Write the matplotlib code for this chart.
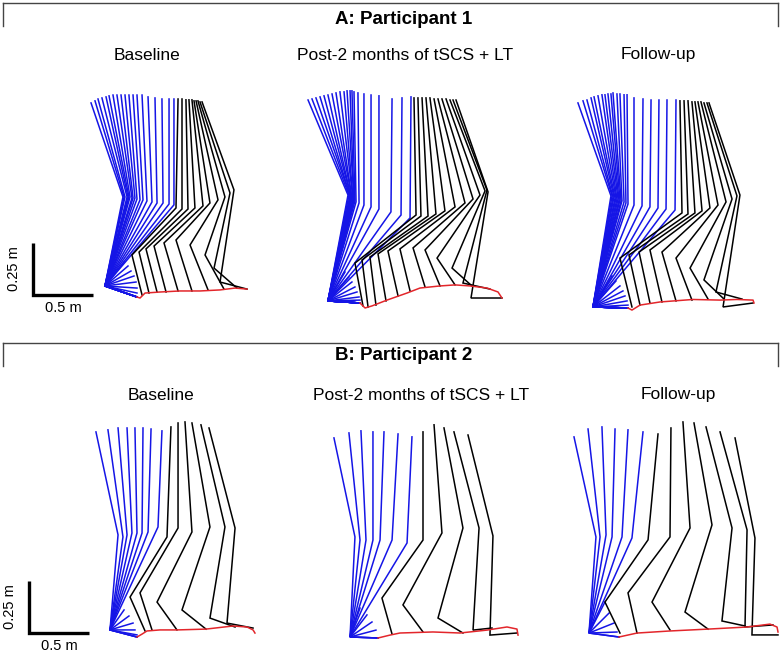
import matplotlib.pyplot as plt
from matplotlib.lines import Line2D

plt.rcParams['font.family'] = ['Liberation Sans', 'DejaVu Sans']

W, H = 781, 655
PX_PER_M_X = 120
PX_PER_M_Y = 208

BLUE = '#1515e6'
RED = '#e3262b'

# all positions in metres, origin = toe position at toe-off, y up
# stance = blue sticks, swing = black sticks, toe path = red

# ---------------- A: Participant 1 / Baseline
p1b_st_hip_x = [-0.383, -0.35, -0.325, -0.292, -0.258, -0.233, -0.2, -0.167, -0.133, -0.1, -0.067, -0.033, 0.0, 0.042, 0.092, 0.15, 0.208, 0.267, 0.308]
p1b_st_hip_y = [0.933, 0.943, 0.952, 0.957, 0.962, 0.967, 0.971, 0.971, 0.971, 0.971, 0.971, 0.971, 0.971, 0.971, 0.962, 0.957, 0.952, 0.952, 0.952]
p1b_st_knee_x = [-0.117, -0.108, -0.1, -0.083, -0.075, -0.067, -0.058, -0.042, -0.033, -0.017, 0.0, 0.025, 0.05, 0.083, 0.125, 0.167, 0.217, 0.267, 0.308]
p1b_st_knee_y = [0.481, 0.481, 0.481, 0.481, 0.481, 0.481, 0.481, 0.476, 0.476, 0.476, 0.471, 0.467, 0.467, 0.462, 0.457, 0.452, 0.452, 0.447, 0.443]
p1b_st_ankle = (-0.267, 0.053)
p1b_st_toe_x = [-0.108, -0.075, -0.05, -0.025, -0.008, 0, 0, 0, 0, 0, 0, 0, 0, 0, 0, 0, 0, 0, 0]
p1b_st_toe_y = [0.168, 0.149, 0.125, 0.101, 0.072, 0.043, 0.019, 0, 0, 0, 0, 0, 0, 0, 0, 0, 0, 0, 0]
p1b_sw_hip_x = [0.342, 0.375, 0.408, 0.433, 0.458, 0.475, 0.492, 0.508, 0.525, 0.542]
p1b_sw_hip_y = [0.952, 0.952, 0.948, 0.948, 0.948, 0.943, 0.943, 0.943, 0.938, 0.938]
p1b_sw_knee_x = [0.325, 0.375, 0.425, 0.483, 0.55, 0.608, 0.675, 0.733, 0.775, 0.808]
p1b_sw_knee_y = [0.428, 0.423, 0.423, 0.428, 0.438, 0.452, 0.467, 0.481, 0.5, 0.515]
p1b_sw_ankle_x = [-0.042, 0.017, 0.075, 0.142, 0.225, 0.325, 0.442, 0.567, 0.642, 0.692]
p1b_sw_ankle_y = [0.202, 0.216, 0.231, 0.245, 0.26, 0.274, 0.25, 0.202, 0.139, 0.072]
p1b_sw_toe_x = [0.042, 0.1, 0.167, 0.242, 0.342, 0.458, 0.592, 0.725, 0.833, 0.917]
p1b_sw_toe_y = [0.01, 0.019, 0.024, 0.024, 0.029, 0.029, 0.034, 0.038, 0.043, 0.038]
p1b_path_x = [0, 0.025, 0.067, 0.192, 0.358, 0.525, 0.692, 0.817, 0.917]
p1b_path_y = [0, -0.005, 0.019, 0.024, 0.029, 0.029, 0.034, 0.043, 0.038]

# ---------------- A: Participant 1 / Post-2 months
p1p_st_hip_x = [-0.433, -0.4, -0.367, -0.333, -0.3, -0.267, -0.233, -0.2, -0.167, -0.133, -0.108, -0.083, -0.067, -0.05, -0.017, 0.033, 0.092, 0.158, 0.267, 0.35, 0.425]
p1p_st_hip_y = [0.976, 0.981, 0.986, 0.991, 0.996, 1.0, 1.005, 1.01, 1.015, 1.015, 1.02, 1.02, 1.02, 1.015, 1.01, 1.005, 1.0, 0.996, 0.981, 0.986, 0.991]
p1p_st_knee_x = [-0.1, -0.092, -0.083, -0.083, -0.075, -0.075, -0.067, -0.067, -0.058, -0.058, -0.05, -0.05, -0.042, -0.033, -0.008, 0.033, 0.092, 0.158, 0.258, 0.342, 0.417]
p1p_st_knee_y = [0.519, 0.519, 0.515, 0.515, 0.51, 0.51, 0.505, 0.505, 0.5, 0.5, 0.495, 0.495, 0.491, 0.486, 0.481, 0.471, 0.462, 0.452, 0.438, 0.423, 0.409]
p1p_st_ankle = (-0.267, 0.01)
p1p_st_toe_x = [-0.125, -0.092, -0.067, -0.042, -0.025, -0.008, 0, 0, 0, 0, 0, 0, 0, 0, 0, 0, 0, 0, 0, 0, 0]
p1p_st_toe_y = [0.149, 0.125, 0.101, 0.077, 0.053, 0.029, 0.014, 0, 0, 0, 0, 0, 0, 0, 0, 0, 0, 0, 0, 0, 0]
p1p_sw_hip_x = [0.45, 0.483, 0.517, 0.55, 0.583, 0.617, 0.65, 0.683, 0.717, 0.75, 0.775, 0.8]
p1p_sw_hip_y = [0.986, 0.986, 0.986, 0.986, 0.986, 0.981, 0.981, 0.981, 0.981, 0.976, 0.976, 0.976]
p1p_sw_knee_x = [0.467, 0.508, 0.567, 0.633, 0.708, 0.792, 0.875, 0.942, 1.0, 1.042, 1.058, 1.067]
p1p_sw_knee_y = [0.423, 0.418, 0.418, 0.428, 0.443, 0.462, 0.481, 0.5, 0.519, 0.539, 0.543, 0.534]
p1p_sw_ankle_x = [-0.042, 0.017, 0.083, 0.15, 0.233, 0.333, 0.442, 0.542, 0.642, 0.767, 0.858, 0.925]
p1p_sw_ankle_y = [0.192, 0.207, 0.221, 0.236, 0.25, 0.26, 0.265, 0.255, 0.216, 0.168, 0.096, 0.024]
p1p_sw_toe_x = [0.025, 0.067, 0.133, 0.217, 0.317, 0.417, 0.542, 0.667, 0.792, 0.933, 1.083, 1.183]
p1p_sw_toe_y = [-0.014, -0.019, -0.01, 0.01, 0.034, 0.058, 0.077, 0.082, 0.087, 0.082, 0.067, 0.024]
p1p_path_x = [0, 0.042, 0.1, 0.225, 0.392, 0.5, 0.667, 0.792, 0.917, 1.058, 1.15, 1.183]
p1p_path_y = [0, -0.024, -0.014, 0.014, 0.048, 0.072, 0.082, 0.087, 0.082, 0.072, 0.053, 0.024]

# ---------------- A: Participant 1 / Follow-up
p1f_st_hip_x = [-0.417, -0.375, -0.342, -0.308, -0.283, -0.25, -0.217, -0.192, -0.167, -0.142, -0.125, -0.092, -0.067, -0.033, -0.008, 0.05, 0.125, 0.192, 0.258, 0.325, 0.4]
p1f_st_hip_y = [0.986, 0.996, 1.0, 1.01, 1.015, 1.02, 1.025, 1.025, 1.029, 1.029, 1.034, 1.029, 1.029, 1.025, 1.025, 1.01, 1.005, 1.0, 1.0, 1.0, 1.0]
p1f_st_knee_x = [-0.142, -0.133, -0.125, -0.117, -0.108, -0.1, -0.092, -0.083, -0.075, -0.067, -0.058, -0.05, -0.033, -0.017, 0, 0.05, 0.117, 0.183, 0.25, 0.317, 0.392]
p1f_st_knee_y = [0.539, 0.539, 0.534, 0.534, 0.529, 0.529, 0.524, 0.524, 0.519, 0.519, 0.515, 0.515, 0.51, 0.505, 0.5, 0.495, 0.491, 0.486, 0.481, 0.476, 0.471]
p1f_st_ankle = (-0.292, 0.005)
p1f_st_toe_x = [-0.133, -0.1, -0.067, -0.042, -0.025, -0.008, 0, 0, 0, 0, 0, 0, 0, 0, 0, 0, 0, 0, 0, 0, 0]
p1f_st_toe_y = [0.154, 0.13, 0.106, 0.082, 0.058, 0.034, 0.014, 0, 0, 0, 0, 0, 0, 0, 0, 0, 0, 0, 0, 0, 0]
p1f_sw_hip_x = [0.433, 0.467, 0.5, 0.533, 0.558, 0.583, 0.608, 0.633, 0.658, 0.675]
p1f_sw_hip_y = [0.996, 0.996, 0.996, 0.991, 0.991, 0.991, 0.991, 0.986, 0.986, 0.986]
p1f_sw_knee_x = [0.45, 0.5, 0.558, 0.617, 0.683, 0.75, 0.817, 0.867, 0.908, 0.933]
p1f_sw_knee_y = [0.457, 0.452, 0.457, 0.467, 0.481, 0.495, 0.51, 0.524, 0.539, 0.543]
p1f_sw_ankle_x = [-0.067, 0.008, 0.092, 0.183, 0.283, 0.4, 0.517, 0.633, 0.733, 0.792]
p1f_sw_ankle_y = [0.24, 0.255, 0.269, 0.279, 0.269, 0.24, 0.192, 0.135, 0.077, 0.005]
p1f_sw_toe_x = [0.033, 0.1, 0.183, 0.283, 0.4, 0.533, 0.667, 0.8, 0.95, 1.042]
p1f_sw_toe_y = [0.005, 0.014, 0.024, 0.029, 0.034, 0.038, 0.043, 0.043, 0.043, 0.024]
p1f_path_x = [0, 0.033, 0.1, 0.267, 0.542, 0.767, 0.908, 1.042, 1.05]
p1f_path_y = [0, -0.01, 0.014, 0.029, 0.041, 0.038, 0.041, 0.038, 0.024]

# ---------------- B: Participant 2 / Baseline
p2b_st_hip_x = [-0.342, -0.242, -0.158, -0.083, -0.017, 0.05, 0.117, 0.208]
p2b_st_hip_y = [0.986, 0.996, 1.005, 1.005, 1.005, 1.005, 1.0, 0.991]
p2b_st_knee_x = [-0.158, -0.117, -0.083, -0.042, 0, 0.042, 0.092, 0.175]
p2b_st_knee_y = [0.491, 0.481, 0.491, 0.5, 0.5, 0.5, 0.505, 0.529]
p2b_st_ankle = (-0.225, 0.034)
p2b_st_toe_x = [-0.108, -0.067, -0.033, -0.017, 0, 0, 0, 0]
p2b_st_toe_y = [0.13, 0.101, 0.067, 0.034, 0.01, 0, 0, 0]
p2b_sw_hip_x = [0.283, 0.342, 0.4, 0.458, 0.533, 0.6]
p2b_sw_hip_y = [1.01, 1.029, 1.034, 1.029, 1.02, 1.005]
p2b_sw_knee_x = [0.25, 0.342, 0.458, 0.608, 0.733, 0.817]
p2b_sw_knee_y = [0.481, 0.524, 0.505, 0.529, 0.529, 0.524]
p2b_sw_ankle_x = [-0.058, 0.025, 0.167, 0.375, 0.608, 0.75]
p2b_sw_ankle_y = [0.192, 0.212, 0.168, 0.13, 0.091, 0.067]
p2b_sw_toe_x = [0.067, 0.125, 0.333, 0.575, 0.817, 0.967]
p2b_sw_toe_y = [0.029, 0.034, 0.034, 0.038, 0.048, 0.043]
p2b_path_x = [0, 0.042, 0.083, 0.192, 0.333, 0.575, 0.8, 0.917, 0.967, 0.983]
p2b_path_y = [0, 0.014, 0.029, 0.034, 0.034, 0.038, 0.053, 0.048, 0.034, 0.019]

# ---------------- B: Participant 2 / Post-2 months
p2p_st_hip_x = [-0.367, -0.242, -0.142, -0.042, 0.05, 0.167, 0.283]
p2p_st_hip_y = [0.962, 0.986, 0.996, 0.991, 0.991, 0.981, 0.967]
p2p_st_knee_x = [-0.192, -0.15, -0.1, -0.042, 0.017, 0.117, 0.242]
p2p_st_knee_y = [0.486, 0.471, 0.471, 0.471, 0.471, 0.471, 0.457]
p2p_st_ankle = (-0.233, 0.005)
p2p_st_toe_x = [-0.15, -0.092, -0.05, -0.017, 0, 0, 0]
p2p_st_toe_y = [0.144, 0.111, 0.077, 0.038, 0, 0, 0]
p2p_sw_hip_x = [0.375, 0.467, 0.55, 0.633, 0.75]
p2p_sw_hip_y = [0.991, 1.025, 1.01, 0.991, 0.976]
p2p_sw_knee_x = [0.375, 0.533, 0.708, 0.842, 0.958]
p2p_sw_knee_y = [0.471, 0.505, 0.529, 0.529, 0.491]
p2p_sw_ankle_x = [0.033, 0.208, 0.5, 0.792, 0.933]
p2p_sw_ankle_y = [0.192, 0.159, 0.096, 0.038, 0.014]
p2p_sw_toe_x = [0.117, 0.375, 0.708, 0.95, 1.158]
p2p_sw_toe_y = [0.019, 0.029, 0.024, 0.048, 0.024]
p2p_path_x = [0, 0.1, 0.183, 0.458, 0.683, 0.908, 1.075, 1.158, 1.167]
p2p_path_y = [0, 0.014, 0.024, 0.029, 0.024, 0.038, 0.053, 0.043, 0.014]

# ---------------- B: Participant 2 / Follow-up
p2f_st_hip_x = [-0.375, -0.258, -0.142, -0.033, 0.075, 0.2]
p2f_st_hip_y = [0.962, 1.0, 1.01, 1.0, 0.996, 0.986]
p2f_st_knee_x = [-0.192, -0.158, -0.108, -0.058, 0.025, 0.108]
p2f_st_knee_y = [0.481, 0.481, 0.491, 0.481, 0.481, 0.476]
p2f_st_ankle = (-0.25, 0.019)
p2f_st_toe_x = [-0.117, -0.083, -0.042, -0.017, 0, 0]
p2f_st_toe_y = [0.168, 0.115, 0.067, 0.024, 0, 0]
p2f_sw_hip_x = [0.325, 0.433, 0.533, 0.625, 0.725, 0.842, 0.967]
p2f_sw_hip_y = [0.976, 1.005, 1.034, 1.029, 1.01, 0.986, 0.957]
p2f_sw_knee_x = [0.242, 0.425, 0.592, 0.775, 0.942, 1.067, 1.133]
p2f_sw_knee_y = [0.467, 0.481, 0.524, 0.539, 0.524, 0.515, 0.476]
p2f_sw_ankle_x = [-0.117, 0.075, 0.275, 0.55, 0.858, 1.05, 1.108]
p2f_sw_ankle_y = [0.168, 0.212, 0.168, 0.12, 0.077, 0.048, 0.01]
p2f_sw_toe_x = [0.008, 0.15, 0.425, 0.742, 1.05, 1.283, 1.325]
p2f_sw_toe_y = [0.019, 0.019, 0.034, 0.038, 0.053, 0.058, 0.01]
p2f_path_x = [0, 0.15, 0.425, 0.742, 1.067, 1.258, 1.317, 1.325]
p2f_path_y = [0, 0.019, 0.029, 0.038, 0.048, 0.062, 0.048, 0.024]

titles = ['A: Participant 1', 'B: Participant 2']
conditions = ['Baseline', 'Post-2 months of tSCS + LT', 'Follow-up']


def make_axes(fig, ox, oy, left=110, right=180, top=240, bottom=20):
    # axes whose data origin (0, 0) sits at pixel (ox, oy) of the figure
    rect = [(ox - left) / W, (H - oy - bottom) / H, (left + right) / W, (top + bottom) / H]
    ax = fig.add_axes(rect)
    ax.set_xlim(-left / PX_PER_M_X, right / PX_PER_M_X)
    ax.set_ylim(-bottom / PX_PER_M_Y, top / PX_PER_M_Y)
    ax.axis('off')
    return ax


def draw_gait(ax, st, sw, path):
    hx, hy, kx, ky, ank, tx, ty = st
    for i in range(len(hx)):
        ax.plot([hx[i], kx[i], ank[0], tx[i]], [hy[i], ky[i], ank[1], ty[i]],
                color=BLUE, lw=1.1, solid_joinstyle='miter')
    hx, hy, kx, ky, ax_, ay, tx, ty = sw
    for i in range(len(hx)):
        ax.plot([hx[i], kx[i], ax_[i], tx[i]], [hy[i], ky[i], ay[i], ty[i]],
                color='black', lw=1.1, solid_joinstyle='miter')
    ax.plot(path[0], path[1], color=RED, lw=1.1, zorder=5)


fig = plt.figure(figsize=(W / 100, H / 100), dpi=100)

panels = [
    ((137, 297),
     (p1b_st_hip_x, p1b_st_hip_y, p1b_st_knee_x, p1b_st_knee_y, p1b_st_ankle, p1b_st_toe_x, p1b_st_toe_y),
     (p1b_sw_hip_x, p1b_sw_hip_y, p1b_sw_knee_x, p1b_sw_knee_y, p1b_sw_ankle_x, p1b_sw_ankle_y, p1b_sw_toe_x, p1b_sw_toe_y),
     (p1b_path_x, p1b_path_y)),
    ((360, 303),
     (p1p_st_hip_x, p1p_st_hip_y, p1p_st_knee_x, p1p_st_knee_y, p1p_st_ankle, p1p_st_toe_x, p1p_st_toe_y),
     (p1p_sw_hip_x, p1p_sw_hip_y, p1p_sw_knee_x, p1p_sw_knee_y, p1p_sw_ankle_x, p1p_sw_ankle_y, p1p_sw_toe_x, p1p_sw_toe_y),
     (p1p_path_x, p1p_path_y)),
    ((628, 308),
     (p1f_st_hip_x, p1f_st_hip_y, p1f_st_knee_x, p1f_st_knee_y, p1f_st_ankle, p1f_st_toe_x, p1f_st_toe_y),
     (p1f_sw_hip_x, p1f_sw_hip_y, p1f_sw_knee_x, p1f_sw_knee_y, p1f_sw_ankle_x, p1f_sw_ankle_y, p1f_sw_toe_x, p1f_sw_toe_y),
     (p1f_path_x, p1f_path_y)),
    ((137, 637),
     (p2b_st_hip_x, p2b_st_hip_y, p2b_st_knee_x, p2b_st_knee_y, p2b_st_ankle, p2b_st_toe_x, p2b_st_toe_y),
     (p2b_sw_hip_x, p2b_sw_hip_y, p2b_sw_knee_x, p2b_sw_knee_y, p2b_sw_ankle_x, p2b_sw_ankle_y, p2b_sw_toe_x, p2b_sw_toe_y),
     (p2b_path_x, p2b_path_y)),
    ((378, 638),
     (p2p_st_hip_x, p2p_st_hip_y, p2p_st_knee_x, p2p_st_knee_y, p2p_st_ankle, p2p_st_toe_x, p2p_st_toe_y),
     (p2p_sw_hip_x, p2p_sw_hip_y, p2p_sw_knee_x, p2p_sw_knee_y, p2p_sw_ankle_x, p2p_sw_ankle_y, p2p_sw_toe_x, p2p_sw_toe_y),
     (p2p_path_x, p2p_path_y)),
    ((619, 637),
     (p2f_st_hip_x, p2f_st_hip_y, p2f_st_knee_x, p2f_st_knee_y, p2f_st_ankle, p2f_st_toe_x, p2f_st_toe_y),
     (p2f_sw_hip_x, p2f_sw_hip_y, p2f_sw_knee_x, p2f_sw_knee_y, p2f_sw_ankle_x, p2f_sw_ankle_y, p2f_sw_toe_x, p2f_sw_toe_y),
     (p2f_path_x, p2f_path_y)),
]

for (ox, oy), st, sw, path in panels:
    ax = make_axes(fig, ox, oy)
    draw_gait(ax, st, sw, path)

# scale bars (0.5 m horizontal, 0.25 m vertical)
for ox, oy in [(33, 295), (29, 633)]:
    ax = make_axes(fig, ox, oy, left=30, right=80, top=70, bottom=22)
    ax.plot([0, 0, 0.5], [0.25, 0, 0], color='black', lw=2.4, solid_capstyle='butt',
            solid_joinstyle='miter')
    ax.text(-0.155, 0.125, '0.25 m', rotation=90, ha='center', va='center', fontsize=10.5)
    ax.text(0.25, -0.062, '0.5 m', ha='center', va='center', fontsize=10.5)

# group headers with bracket frames
for ytop, title, ytitle, ysub, xs in [(3, titles[0], 19, 55, (147, 405, 658)),
                                      (343, titles[1], 356, 395, (161, 421, 678))]:
    yb = ytop + 23
    for xs_, ys_ in [((3, 778), (ytop, ytop)), ((3, 3), (ytop, yb)), ((778, 778), (ytop, yb))]:
        fig.add_artist(Line2D([x / W for x in xs_], [1 - y / H for y in ys_],
                              color='#444444', lw=1.0))
    fig.text(404 / W, 1 - ytitle / H, title, ha='center', va='center',
             fontsize=13.5, fontweight='bold')
    for x, c in zip(xs, conditions):
        fig.text(x / W, 1 - ysub / H, c, ha='center', va='center', fontsize=12.5)

fig.savefig('out.png', dpi=100)
